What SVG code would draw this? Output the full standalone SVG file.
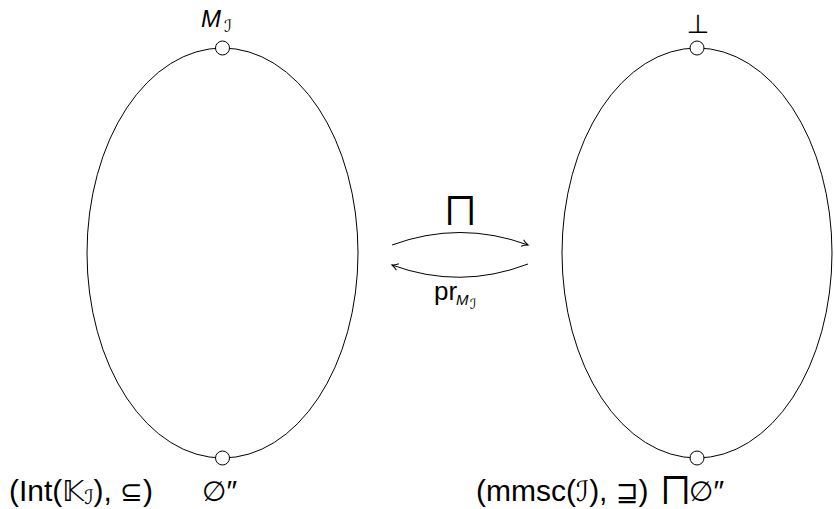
<svg xmlns="http://www.w3.org/2000/svg" width="834" height="509" viewBox="0 0 834 509">
<style>
.t{font-family:"Liberation Sans","DejaVu Sans",sans-serif;fill:#000}
.b{font-size:30px}
.m{font-family:"DejaVu Sans","Liberation Sans",sans-serif;fill:#000}
.e{fill:none;stroke:#000;stroke-width:1}
.c{fill:#fff;stroke:#000;stroke-width:1}
.a{fill:none;stroke:#000;stroke-width:1;marker-end:url(#ah)}
</style>
<defs>
<marker id="ah" markerWidth="10" markerHeight="10" refX="8" refY="5" orient="auto" markerUnits="userSpaceOnUse">
<path d="M2,1.5 Q5,4 8,5 Q5,6 2,8.5" fill="none" stroke="#000" stroke-width="1"/>
</marker>
</defs>
<g id="left-lattice">
<ellipse class="e" cx="222.5" cy="253" rx="135.5" ry="205"/>
<circle class="c" cx="222.5" cy="48" r="7"/>
<circle class="c" cx="222.5" cy="458" r="7"/>
<text class="t" x="201" y="27" font-size="24" font-style="italic">M</text>
<text class="m" x="224" y="32" font-size="17">ℐ</text>
<text class="t b" x="9" y="501">(Int(<tspan class="m" font-size="29">𝕂</tspan><tspan class="m" font-size="20" dy="3">ℐ</tspan><tspan dy="-3">), </tspan><tspan class="m" font-size="27">⊆</tspan>)</text>
<text class="t b" x="202" y="501"><tspan class="m" font-size="28">∅</tspan>″</text>
</g>
<g id="right-lattice">
<ellipse class="e" cx="697" cy="253" rx="135" ry="205"/>
<circle class="c" cx="697" cy="48" r="7"/>
<circle class="c" cx="697" cy="458" r="7"/>
<text class="m" x="698" y="33" font-size="26" text-anchor="middle">⊥</text>
<text class="t b" x="476" y="501">(mmsc(<tspan class="m" font-size="28">ℐ</tspan>), <tspan class="m" font-size="27">⊒</tspan>)</text>
<text class="m" x="675" y="501" font-size="34" text-anchor="middle">⨅</text>
<text class="t b" x="689" y="501"><tspan class="m" font-size="28">∅</tspan>″</text>
</g>
<g id="connectors">
<path class="a" d="M392,245 Q460,220 528,245"/>
<path class="a" d="M528,264 Q460,290 392,265"/>
<text class="m" x="460" y="222" font-size="36" text-anchor="middle">⨅</text>
<text class="t" x="434" y="300" font-size="26">pr</text>
<text class="t" x="456" y="305" font-size="15" font-style="italic">M</text>
<text class="m" x="470" y="309" font-size="14">ℐ</text>
</g>
</svg>
